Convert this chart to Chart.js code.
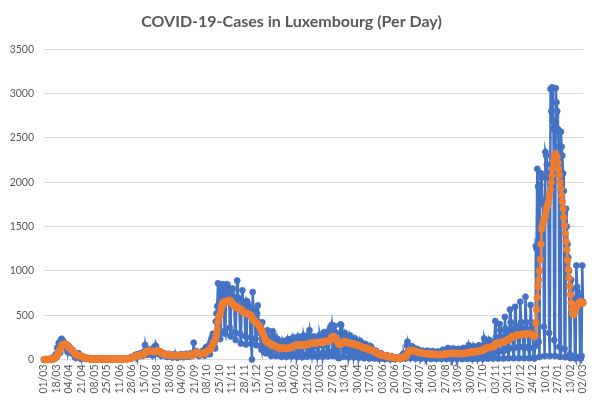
<!DOCTYPE html>
<html>
<head>
<meta charset="utf-8">
<script src="https://cdn.jsdelivr.net/npm/chart.js@4.4.1/dist/chart.umd.min.js"></script>
<style>
html,body{margin:0;padding:0;background:#ffffff;}
canvas{display:block;}
</style>
</head>
<body>
<canvas id="c" width="597" height="405"></canvas>
<script>
// ---- Daily new cases (blue) and 7-day average (orange) ----
const cases2020Mar = [0,0,0,0,1,2,0,0,1,2,3,19,8,17,26,19,59,60,130,136,186,128,77,224,234,157,210,190,130,140,150];
const avg2020Mar   = [0,0,0,0,0,0,0,0,1,1,1,4,5,7,11,13,22,30,46,61,86,103,111,134,159,161,168,174,173,173,172];
const cases2020Apr = [139,84,155,147,82,77,102,74,70,75,47,27,19,48,36,64,70,29,30,8,16,12,18,16,9,15,6,17,17,11];
const avg2020Apr   = [159,149,141,135,128,119,112,103,101,90,75,67,59,51,46,45,44,42,42,41,36,33,26,18,16,13,13,13,14,13];
const cases2020May = [9,3,5,2,4,9,5,10,4,3,2,6,11,16,10,5,7,3,9,4,2,7,8,6,5,0,3,5,4,8,9];
const avg2020May   = [12,10,9,7,6,6,5,5,5,5,4,5,6,7,8,9,8,8,9,8,7,6,6,6,5,5,4,4,4,5,6];
const cases2020Jun = [5,2,4,7,10,6,3,1,8,6,3,5,12,9,4,7,6,5,11,8,7,10,13,9,15,18,26,23,31,29];
const avg2020Jun   = [6,6,6,6,6,6,6,5,6,6,6,6,6,7,6,7,7,7,7,8,8,8,9,9,10,11,14,17,21,25];
const cases2020Jul = [30,46,38,55,24,45,62,51,56,68,72,40,44,71,92,164,98,110,52,85,105,114,88,93,72,46,98,122,150,79,152];
const avg2020Jul   = [28,32,35,40,40,42,43,46,48,52,54,56,56,58,63,77,82,90,91,93,97,94,93,90,93,88,87,88,91,90,97];
const cases2020Aug = [108,64,73,83,62,58,41,48,66,52,71,55,60,38,29,40,64,52,45,38,34,22,30,58,49,41,54,29,20,27,48];
const avg2020Aug   = [98,96,98,94,93,87,75,68,66,63,62,60,58,56,54,53,52,51,50,49,48,46,45,45,46,45,46,45,44,44,45];
const cases2020Sep = [52,47,60,39,55,41,28,43,57,65,49,38,52,31,44,71,53,62,48,190,66,58,75,94,70,52,40,48,55,72];
const avg2020Sep   = [45,46,47,47,48,47,46,45,46,48,49,48,47,46,46,49,49,52,50,69,71,72,76,82,81,78,74,61,60,61];
const cases2020Oct = [82,96,64,48,45,125,138,118,150,112,70,60,198,230,252,290,230,160,125,430,520,600,860,620,290,230,700,780,850,840,560];
const avg2020Oct   = [64,68,68,70,68,72,84,90,98,105,108,110,121,134,153,173,190,203,212,245,287,338,419,474,493,508,560,600,630,645,650];
const cases2020Nov = [320,290,830,850,800,790,720,360,260,760,720,800,700,640,310,220,680,890,700,660,610,290,180,640,780,650,620,550,260,170];
const avg2020Nov   = [650,640,655,660,662,665,668,670,660,650,632,630,617,605,598,590,585,596,582,576,572,570,567,562,546,539,533,525,520,524];
const cases2020Dec = [660,640,610,580,520,250,180,0,760,560,560,470,230,160,520,610,420,380,300,150,110,420,300,250,120,80,70,150,330,260,220];
const avg2020Dec   = [520,515,512,510,505,500,495,470,460,450,440,430,420,410,405,400,390,380,360,345,330,310,290,270,250,225,205,200,195,192,190];
const cases2021Jan = [90,70,40,60,320,270,210,200,120,40,45,230,200,190,180,110,30,40,210,190,180,170,90,30,50,230,210,200,180,110,35];
const avg2021Jan   = [185,178,170,160,165,160,152,150,148,145,140,135,132,130,130,130,128,128,128,127,126,125,125,125,126,128,130,132,134,136,138];
const cases2021Feb = [60,250,230,210,220,120,30,70,260,240,230,210,130,25,60,270,230,240,220,140,30,80,280,330,250,230,130,35];
const avg2021Feb   = [140,150,155,158,160,162,160,161,162,163,165,165,166,165,163,164,164,165,166,167,168,170,171,180,182,184,184,184];
const cases2021Mar = [70,260,250,240,250,150,30,75,250,280,240,250,160,30,80,310,300,260,250,150,35,90,330,360,340,390,200,40,110,380,310];
const avg2021Mar   = [183,184,186,188,189,190,190,191,191,195,195,195,196,196,197,199,202,205,205,206,207,208,212,220,232,250,255,257,260,250,240];
const cases2021Apr = [300,160,60,20,15,150,396,390,280,170,30,90,300,280,250,230,140,25,80,270,250,240,220,120,25,70,238,220,210,190];
const avg2021Apr   = [240,222,200,185,172,165,170,178,190,196,198,202,200,198,194,190,188,186,183,182,180,178,177,176,175,172,168,165,163,160];
const cases2021May = [100,20,60,210,190,180,160,90,15,50,175,160,150,130,70,10,40,150,130,120,100,50,10,20,100,90,80,70,40,5,20];
const avg2021May   = [158,156,152,148,144,140,137,134,132,130,128,126,123,120,117,115,112,108,105,102,98,94,90,86,80,75,70,66,62,58,55];
const cases2021Jun = [70,60,55,50,25,5,15,50,45,40,35,20,3,10,35,30,28,25,12,2,8,22,20,18,22,10,3,12,40,45];
const avg2021Jun   = [52,50,48,46,44,42,40,38,36,34,32,30,29,28,26,25,23,22,21,20,19,18,17,16,15,14,14,14,16,20];
const cases2021Jul = [60,70,40,10,30,160,200,140,150,80,15,40,150,140,130,120,60,10,35,120,110,100,95,50,8,30,100,95,90,85,45];
const avg2021Jul   = [25,30,33,34,34,50,72,84,95,100,101,102,100,98,97,96,92,90,88,85,82,80,78,76,74,72,70,70,69,68,68];
const cases2021Aug = [8,30,100,90,85,80,40,6,25,95,85,80,75,35,5,20,90,85,80,75,35,5,30,110,100,95,85,40,6,35,130];
const avg2021Aug   = [67,66,65,64,63,62,62,61,60,60,59,58,57,57,56,56,55,55,55,55,55,55,56,58,60,62,63,63,63,64,66];
const cases2021Sep = [120,110,100,45,5,35,125,115,110,100,45,5,30,120,110,100,95,40,5,35,130,120,110,105,50,6,40,160,130,120];
const avg2021Sep   = [67,68,68,69,69,70,70,70,69,69,69,68,68,68,67,67,67,66,66,67,68,70,71,72,73,74,75,77,80,82];
const cases2021Oct = [115,50,6,40,150,130,125,120,55,6,45,160,150,140,135,60,8,60,238,200,180,170,75,8,60,220,200,190,180,80,10];
const avg2021Oct   = [83,84,84,84,85,87,88,89,90,91,92,94,96,98,100,101,102,105,116,124,128,130,132,133,134,135,138,140,142,143,144];
const cases2021Nov = [40,200,434,250,230,90,10,90,400,332,260,250,100,12,100,480,350,300,290,120,15,120,565,420,340,330,130,15,130,595];
const avg2021Nov   = [144,150,178,180,182,182,182,187,189,190,191,194,195,195,196,208,210,216,220,222,222,225,237,246,251,257,259,260,262,266];
const cases2021Dec = [380,330,320,140,15,140,652,420,350,330,140,15,140,708,420,340,320,130,15,130,616,420,380,300,20,10,150,1280,1250,2150,1950];
const avg2021Dec   = [270,275,276,278,280,282,282,282,283,283,284,285,285,285,287,290,290,292,293,290,285,280,280,278,262,258,270,410,560,700,825];
const cases2022Jan = [200,30,1970,2100,2050,1800,1750,370,40,2340,2300,2200,2100,2050,300,40,3050,2800,3070,2700,2600,220,40,3060,2900,2800,2600,2400,144,30,2570];
const avg2022Jan   = [900,1000,1130,1300,1470,1510,1545,1580,1600,1620,1670,1715,1740,1770,1830,1880,1920,2000,2075,2150,2230,2280,2320,2310,2290,2280,2220,2150,2080,2000,1930];
const cases2022Feb = [2400,2300,2100,1900,120,25,1700,1500,1300,1150,1000,60,15,900,800,700,650,600,40,10,1060,820,760,720,700,30,10,40];
const avg2022Feb   = [1850,1780,1700,1600,1510,1420,1330,1240,1120,1015,920,825,730,636,570,520,504,520,540,560,590,610,617,625,636,645,655,645];
const cases2022Mar = [1060,650];
const avg2022Mar   = [640,636];

const yTicks = [0,500,1000,1500,2000,2500,3000,3500];
const TICK_STEP = 17;               // one date label every 17 days
const TITLE = 'COVID-19-Cases in Luxembourg (Per Day)';

const cases = [].concat(cases2020Mar,cases2020Apr,cases2020May,cases2020Jun,cases2020Jul,cases2020Aug,
  cases2020Sep,cases2020Oct,cases2020Nov,cases2020Dec,cases2021Jan,cases2021Feb,cases2021Mar,cases2021Apr,
  cases2021May,cases2021Jun,cases2021Jul,cases2021Aug,cases2021Sep,cases2021Oct,cases2021Nov,cases2021Dec,
  cases2022Jan,cases2022Feb,cases2022Mar);
const avg = [].concat(avg2020Mar,avg2020Apr,avg2020May,avg2020Jun,avg2020Jul,avg2020Aug,
  avg2020Sep,avg2020Oct,avg2020Nov,avg2020Dec,avg2021Jan,avg2021Feb,avg2021Mar,avg2021Apr,
  avg2021May,avg2021Jun,avg2021Jul,avg2021Aug,avg2021Sep,avg2021Oct,avg2021Nov,avg2021Dec,
  avg2022Jan,avg2022Feb,avg2022Mar);

// categories: one per day starting 1 March 2020 (dd/mm)
const categories = cases.map((_, i) => {
  const d = new Date(Date.UTC(2020, 2, 1 + i));
  const dd = String(d.getUTCDate()).padStart(2, '0');
  const mm = String(d.getUTCMonth() + 1).padStart(2, '0');
  return dd + '/' + mm;
});

const BLUE = '#4472C4', ORANGE = '#ED7D31', TEXT = '#595959', GRID = '#D9D9D9';

new Chart(document.getElementById('c'), {
  type: 'line',
  data: {
    labels: categories,
    datasets: [
      { label: 'Cases', data: cases, borderColor: BLUE, backgroundColor: BLUE,
        pointBackgroundColor: BLUE, pointBorderColor: BLUE, borderWidth: 2.5,
        pointRadius: 3, pointBorderWidth: 0.75, order: 2, clip: 6 },
      { label: 'Average', data: avg, borderColor: ORANGE, backgroundColor: ORANGE,
        pointBackgroundColor: ORANGE, pointBorderColor: ORANGE, borderWidth: 2.5,
        pointRadius: 3.3, pointBorderWidth: 0.75, order: 1, clip: 6 }
    ]
  },
  options: {
    responsive: false,
    animation: false,
    layout: { padding: { left: 0, right: 14, top: 0, bottom: 0 } },
    plugins: {
      legend: { display: false },
      tooltip: { enabled: false },
      title: { display: true, text: TITLE, color: TEXT,
        font: { family: 'Lato', size: 16, weight: 'bold' },
        padding: { top: 12, bottom: 18 } }
    },
    scales: {
      x: {
        grid: { display: false, drawTicks: false },
        border: { display: false },
        ticks: { autoSkip: false, maxRotation: 90, minRotation: 90, color: TEXT,
          font: { family: 'Lato', size: 10.5 }, padding: 5 },
        afterBuildTicks: s => { s.ticks = s.ticks.filter((t, i) => i % TICK_STEP === 0); },
        afterFit: s => { s.height = 45.5; s.paddingLeft = 0; s.paddingRight = 0; }
      },
      y: {
        min: yTicks[0], max: yTicks[yTicks.length - 1],
        ticks: { stepSize: yTicks[1] - yTicks[0], color: TEXT,
          font: { family: 'Lato', size: 10.5 }, padding: 10,
          callback: v => String(v) },
        grid: { color: GRID, lineWidth: 1, drawTicks: false },
        border: { display: false },
        afterFit: s => { s.width = 44; s.paddingTop = 0; s.paddingBottom = 0; }
      }
    }
  }
});
</script>
</body>
</html>
